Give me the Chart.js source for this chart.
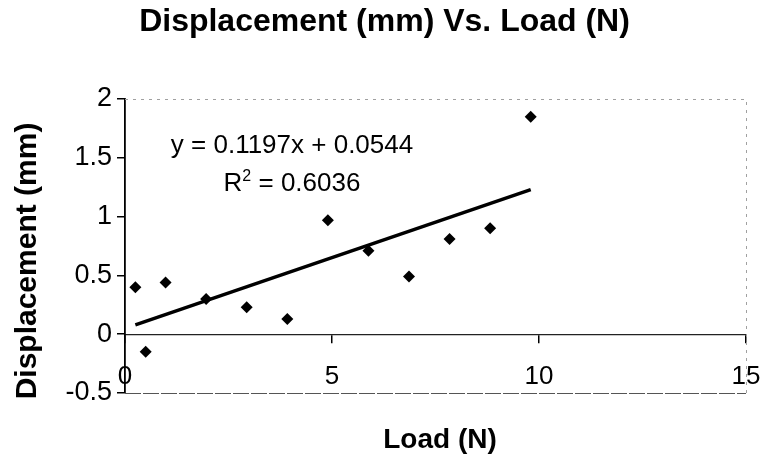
<!DOCTYPE html>
<html>
<head>
<meta charset="utf-8">
<title>Displacement (mm) Vs. Load (N)</title>
<script src="https://cdn.jsdelivr.net/npm/chart.js@4.4.1/dist/chart.umd.min.js"></script>
<style>
    html, body { margin: 0; padding: 0; background: #fff; }
</style>
</head>
<body>
<canvas id="chart" width="764" height="456"></canvas>
<script>
const loadN = [0.25, 0.5, 0.98, 1.96, 2.94, 3.92, 4.9, 5.88, 6.86, 7.84, 8.82, 9.8];
const displacementMm = [0.40, -0.15, 0.44, 0.30, 0.23, 0.13, 0.97, 0.71, 0.49, 0.81, 0.90, 1.85];

// Linear trendline (two end points as drawn)
const trendLoad = [0.25, 9.8];
const trendDisp = [0.08, 1.23];

// Axis ticks
const xTicks = [0, 5, 10, 15];
const yTicks = [-0.5, 0, 0.5, 1, 1.5, 2];

const equationText = 'y = 0.1197x + 0.0544';
const rSquaredValue = '0.6036';

const FONT = "'Liberation Sans', Arial, Helvetica, sans-serif";

// Plot border, axis titles and the trendline label
const decorations = {
    id: 'decorations',
    beforeDatasetsDraw(chart) {
        const { ctx, chartArea: a } = chart;
        ctx.save();
        ctx.lineWidth = 1;
        ctx.strokeStyle = '#a0a0a0';
        ctx.setLineDash([3, 5]);
        ctx.beginPath();
        ctx.moveTo(a.left, a.top + 0.5);
        ctx.lineTo(a.right + 0.5, a.top + 0.5);
        ctx.lineTo(a.right + 0.5, a.bottom);
        ctx.stroke();
        ctx.strokeStyle = '#555';
        ctx.setLineDash([16, 2]);
        ctx.beginPath();
        ctx.moveTo(a.left, a.bottom + 0.5);
        ctx.lineTo(a.right, a.bottom + 0.5);
        ctx.stroke();
        ctx.restore();
    },
    afterDraw(chart) {
        const { ctx, chartArea: a } = chart;
        ctx.save();
        ctx.fillStyle = '#000';
        ctx.textAlign = 'center';
        ctx.textBaseline = 'middle';
        ctx.font = 'bold 28px ' + FONT;
        ctx.fillText('Load (N)', a.left + 315, a.bottom + 47);
        ctx.save();
        ctx.font = 'bold 30px ' + FONT;
        ctx.translate(a.left - 97, a.top + 162);
        ctx.rotate(-Math.PI / 2);
        ctx.fillText('Displacement (mm)', 0, 0);
        ctx.restore();

        // trendline equation
        const cx = a.left + 167;
        ctx.textBaseline = 'alphabetic';
        ctx.font = '26px ' + FONT;
        ctx.fillText(equationText, cx, a.top + 54);

        ctx.textAlign = 'left';
        const base = a.top + 92;
        const rest = ' = ' + rSquaredValue;
        const wR = ctx.measureText('R').width;
        const wRest = ctx.measureText(rest).width;
        ctx.font = '16px ' + FONT;
        const wSup = ctx.measureText('2').width;
        let x = cx - (wR + wSup + wRest) / 2;
        ctx.font = '26px ' + FONT;
        ctx.fillText('R', x, base);
        x += wR;
        ctx.font = '16px ' + FONT;
        ctx.fillText('2', x, base - 10);
        x += wSup;
        ctx.font = '26px ' + FONT;
        ctx.fillText(rest, x, base);
        ctx.restore();
    }
};

const points = loadN.map((v, i) => ({ x: v, y: displacementMm[i] }));
const trend = trendLoad.map((v, i) => ({ x: v, y: trendDisp[i] }));

new Chart(document.getElementById('chart'), {
    type: 'scatter',
    data: {
        datasets: [{
            label: 'Displacement',
            data: points,
            pointStyle: 'rectRot',
            pointRadius: 6,
            pointHoverRadius: 6,
            backgroundColor: '#000',
            borderWidth: 0
        }, {
            label: 'Linear trend',
            data: trend,
            showLine: true,
            pointRadius: 0,
            borderColor: '#000',
            borderWidth: 3.5,
            fill: false
        }]
    },
    options: {
        responsive: false,
        animation: false,
        devicePixelRatio: 1,
        layout: { padding: { left: 5, right: 0, top: 0, bottom: 63 } },
        plugins: {
            legend: { display: false },
            tooltip: { enabled: false },
            title: {
                display: true,
                text: 'Displacement (mm) Vs. Load (N)',
                color: '#000',
                font: { family: FONT, size: 32, weight: 'bold' },
                padding: { top: 3, bottom: 57.6 }
            }
        },
        scales: {
            x: {
                type: 'linear',
                position: { y: 0 },
                min: 0,
                max: 15,
                afterBuildTicks: scale => { scale.ticks = xTicks.map(v => ({ value: v })); },
                afterFit: scale => {
                    // axis sits at y = 0 inside the plot, so it takes no layout room
                    scale.height = 0;
                    scale.paddingLeft = 0;
                    scale.paddingRight = 18;
                },
                ticks: {
                    color: '#000',
                    font: { family: FONT, size: 26 },
                    padding: 19,
                    maxRotation: 0,
                    autoSkip: false,
                    callback: v => String(v)
                },
                grid: {
                    drawOnChartArea: false,
                    drawTicks: true,
                    tickLength: 8,
                    color: '#000',
                    lineWidth: 1.5
                },
                border: { display: true, color: '#222', width: 1.2 }
            },
            y: {
                type: 'linear',
                position: 'left',
                min: -0.5,
                max: 2,
                afterBuildTicks: scale => { scale.ticks = yTicks.map(v => ({ value: v })); },
                afterFit: scale => { scale.width = 120; },
                ticks: {
                    color: '#000',
                    font: { family: FONT, size: 27 },
                    padding: 5,
                    callback: v => String(v)
                },
                grid: {
                    drawOnChartArea: false,
                    drawTicks: true,
                    tickLength: 8,
                    color: '#000',
                    lineWidth: 1.5
                },
                border: { display: true, color: '#000', width: 1.8 }
            }
        }
    },
    plugins: [decorations]
});
</script>
</body>
</html>
